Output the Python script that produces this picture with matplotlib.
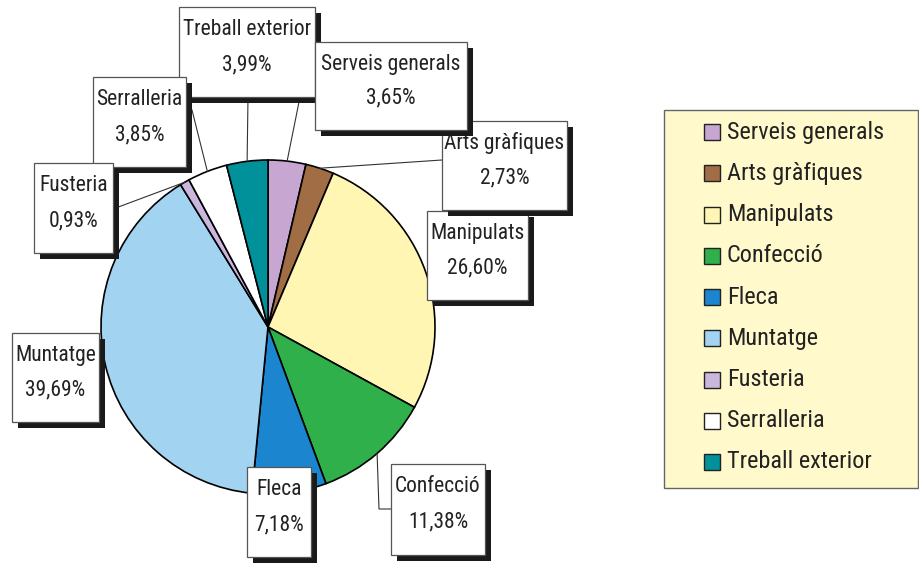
import numpy as np
import matplotlib
matplotlib.use('Agg')
import matplotlib.pyplot as plt
from matplotlib.patches import Rectangle

plt.rcParams['font.family'] = ['Roboto Condensed', 'DejaVu Sans']

categories = ['Serveis generals', 'Arts gràfiques', 'Manipulats', 'Confecció', 'Fleca',
              'Muntatge', 'Fusteria', 'Serralleria', 'Treball exterior']
shares = [3.65, 2.73, 26.60, 11.38, 7.18, 39.69, 0.93, 3.85, 3.99]
colors = ['#c8a6d2', '#a06d45', '#fff6b4', '#2fb04a', '#1b86cf',
          '#a2d3f1', '#cbb6dd', '#ffffff', '#00919b']

# label boxes: left, top, right, bottom (pixels), in drawing order
boxes = {
    'Manipulats': (427, 211, 528, 300),
    'Arts gràfiques': (442, 121, 567, 210),
    'Treball exterior': (179, 7, 315, 97),
    'Serveis generals': (315, 42, 467, 130),
    'Serralleria': (93, 77, 186, 167),
    'Fusteria': (34, 163, 113, 253),
    'Muntatge': (12, 333, 99, 422),
    'Fleca': (247, 467, 311, 557),
    'Confecció': (391, 464, 485, 555),
}
# where each leader line leaves its box
leaders = {
    'Serveis generals': [(300, 97)],
    'Arts gràfiques': [(442, 160)],
    'Treball exterior': [(248, 97)],
    'Serralleria': [(192, 110)],
    'Fusteria': [(113, 209)],
    'Confecció': [(391, 509), (379, 509)],
}

W, H = 920, 563
fig = plt.figure(figsize=(W / 100, H / 100), dpi=100)
ax = fig.add_axes([0, 0, 1, 1])

cx, cy, r = 268, 327, 167
wedges, _ = ax.pie(shares, colors=colors, startangle=-90, counterclock=True,
                   center=(cx, cy), radius=r, frame=True,
                   wedgeprops=dict(edgecolor='black', linewidth=1.2))
for w in wedges:
    w.set_zorder(2)
ax.set_xlim(0, W)
ax.set_ylim(H, 0)
ax.axis('off')

# mid-angle point of each slice on the rim
cum = np.cumsum([0] + shares)
mids = {}
for name, a, b in zip(categories, cum[:-1], cum[1:]):
    th = np.deg2rad((a + b) / 2 / 100 * 360)
    mids[name] = (cx + r * np.sin(th), cy - r * np.cos(th))

for name, pts in leaders.items():
    xs = [p[0] for p in pts] + [mids[name][0]]
    ys = [p[1] for p in pts] + [mids[name][1]]
    ax.plot(xs, ys, color='#333333', lw=0.8, zorder=3)

z = 4
for name, (l, t, rr, b) in boxes.items():
    val = shares[categories.index(name)]
    ax.add_patch(Rectangle((l + 6, t + 6), rr - l, b - t, facecolor='#1a1a1a',
                           edgecolor='none', zorder=z))
    ax.add_patch(Rectangle((l, t), rr - l, b - t, facecolor='white',
                           edgecolor='#555555', lw=0.9, zorder=z + 0.1))
    xm = (l + rr) / 2
    ax.text(xm, t + (b - t) * 0.25, name, ha='center', va='center',
            fontsize=15.5, color='#222222', zorder=z + 0.2)
    ax.text(xm, t + (b - t) * 0.64, f'{val:.2f}%'.replace('.', ','), ha='center',
            va='center', fontsize=15.5, color='#222222', zorder=z + 0.2)
    z += 1

# legend
ax.add_patch(Rectangle((664, 110), 254, 378, facecolor='#fff9cc',
                       edgecolor='#666666', lw=1.0, zorder=20))
for i, (name, c) in enumerate(zip(categories, colors)):
    y = 132 + i * 41.25
    ax.add_patch(Rectangle((704, y - 8), 16, 16, facecolor=c,
                           edgecolor='#222222', lw=1.0, zorder=21))
    ax.text(727, y, name, ha='left', va='center', fontsize=17.5,
            color='#222222', zorder=21)

fig.savefig('out.png', dpi=100)
